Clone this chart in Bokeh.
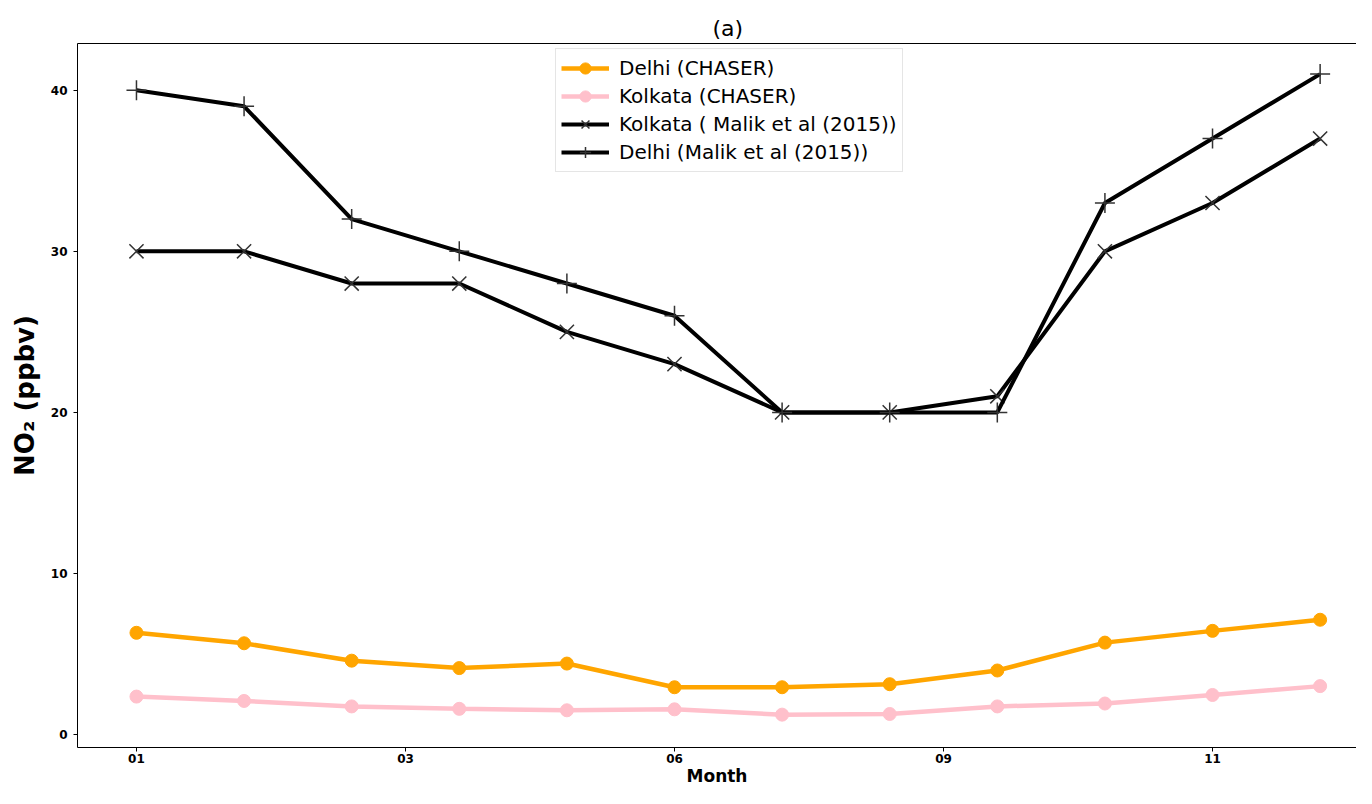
from bokeh.plotting import figure
from bokeh.models import LinearAxis, FixedTicker, Range1d, Legend
from bokeh.embed import file_html
from bokeh.resources import INLINE

months = list(range(12))
tick_pos = [0, 2.5, 5, 7.5, 10]
tick_labels = ["01", "03", "06", "09", "11"]

delhi_chaser = [6.32, 5.67, 4.59, 4.13, 4.41, 2.94, 2.94, 3.13, 3.98, 5.71, 6.44, 7.13]
kolkata_chaser = [2.36, 2.09, 1.75, 1.60, 1.51, 1.57, 1.24, 1.28, 1.75, 1.93, 2.46, 3.01]
kolkata_malik = [30, 30, 28, 28, 25, 23, 20, 20, 21, 30, 33, 37]
delhi_malik = [40, 39, 32, 30, 28, 26, 20, 20, 20, 33, 37, 41]

FONT = "DejaVu Sans"

p = figure(width=1356, height=788, output_backend="svg", toolbar_location=None,
           x_range=Range1d(-0.548, 11.338), y_range=Range1d(-0.8, 42.9),
           min_border_left=77, min_border_right=0, min_border_top=43, min_border_bottom=34)
p.title.text = "(a)"
p.title.align = "left"
p.title.offset = 635
p.title.text_font = FONT
p.title.text_font_size = "22px"
p.title.text_font_style = "normal"
p.title.text_color = "black"
p.title.standoff = 6

p.grid.visible = False
p.outline_line_color = None
p.background_fill_color = "white"
p.border_fill_color = "white"


def add(y, color, lw, marker, label, msize, mcolor, mwidth, fill):
    r1 = p.line(months, y, line_color=color, line_width=lw)
    r2 = p.scatter(months, y, marker=marker, size=msize, line_color=mcolor,
                   fill_color=fill, line_width=mwidth)
    return (label, [r1, r2])


items = [
    add(delhi_chaser, "orange", 4.5, "circle", "Delhi (CHASER)", 13, "orange", 1, "orange"),
    add(kolkata_chaser, "pink", 4.5, "circle", "Kolkata (CHASER)", 13, "pink", 1, "pink"),
    add(kolkata_malik, "black", 4, "x", "Kolkata ( Malik et al (2015))", 20, "#333333", 1.5, None),
    add(delhi_malik, "black", 4, "cross", "Delhi (Malik et al (2015))", 20, "#333333", 1.5, None),
]

legend = Legend(items=items, location=(478, 575), label_text_font=FONT,
                label_text_font_size="20px", label_text_color="black",
                border_line_color="#cccccc",
                border_line_width=1, background_fill_alpha=1, glyph_width=48,
                glyph_height=28, spacing=0, padding=5, margin=0, label_standoff=10,
                label_height=28)
p.add_layout(legend, "center")

for ax in [p.xaxis[0], p.yaxis[0]]:
    ax.axis_line_color = "black"
    ax.axis_line_width = 1
    ax.major_tick_line_color = "black"
    ax.major_tick_out = 4
    ax.major_tick_in = 0
    ax.minor_tick_line_color = None
    ax.major_label_text_font = FONT
    ax.major_label_text_font_size = "12px"
    ax.major_label_text_font_style = "bold"
    ax.major_label_text_color = "black"
    ax.axis_label_text_font = FONT
    ax.axis_label_text_color = "black"

p.xaxis[0].ticker = FixedTicker(ticks=tick_pos)
p.xaxis[0].major_label_overrides = {t: l for t, l in zip(tick_pos, tick_labels)}
p.xaxis[0].major_label_standoff = 2
p.xaxis[0].axis_label = "Month"
p.xaxis[0].axis_label_text_font_size = "17px"
p.xaxis[0].axis_label_text_font_style = "bold"
p.xaxis[0].axis_label_standoff = 0

p.yaxis[0].ticker = FixedTicker(ticks=[0, 10, 20, 30, 40])
p.yaxis[0].major_label_standoff = 6
p.yaxis[0].axis_label = "NO\u2082 (ppbv)"
p.yaxis[0].axis_label_text_font_size = "26px"
p.yaxis[0].axis_label_text_font_style = "bold"
p.yaxis[0].axis_label_standoff = 8

top = LinearAxis(axis_line_color="black", major_tick_line_color=None,
                 minor_tick_line_color=None, major_label_text_font_size="0px",
                 ticker=FixedTicker(ticks=[]))
p.add_layout(top, "above")

open("out.html", "w").write(file_html(p, INLINE))
